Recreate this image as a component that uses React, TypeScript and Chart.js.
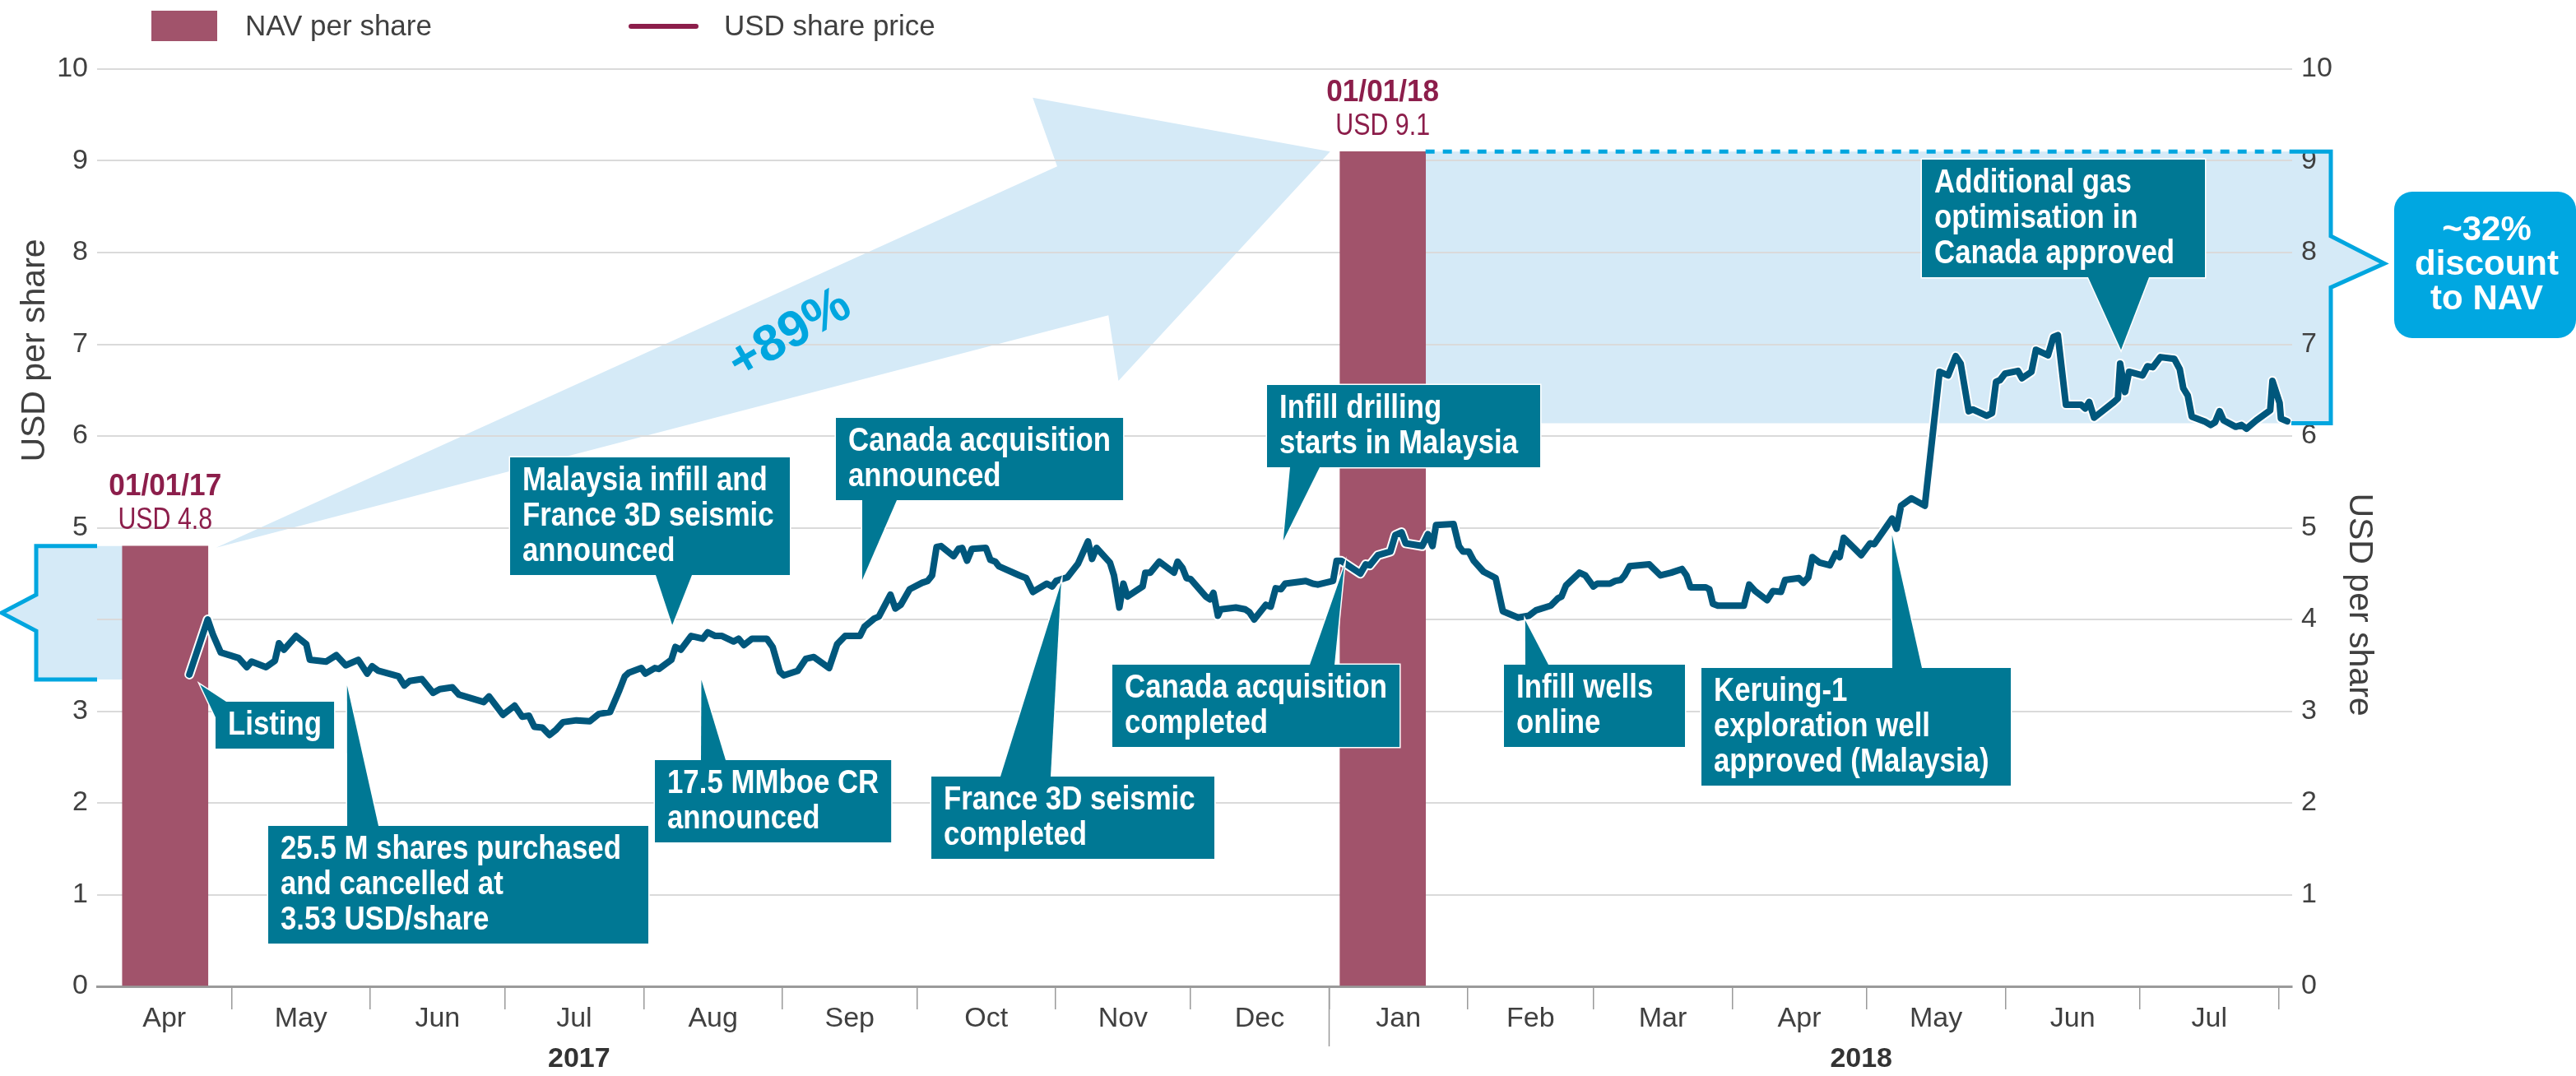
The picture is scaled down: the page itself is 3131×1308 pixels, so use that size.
import React, { useEffect, useRef } from 'react';
import { Chart, registerables } from 'chart.js';
Chart.register(...registerables);

const W = 3131;
const H = 1308;
const FONT = '"Liberation Sans", Arial, sans-serif';

// NAV per share bars
const navDays = [15.2, 287];
const navValues = [4.8, 9.1];
const navDates = ['01/01/17', '01/01/18'];
const navLabels = ['USD 4.8', 'USD 9.1'];

// USD share price (x = days since 1 Apr 2017)
const priceDays = [
  20.6, 24.7, 25.9, 27.6, 31.6, 33.4, 34.5, 37.7, 39.7, 40.6, 41.7, 44.4, 46.7, 47.5, 51.1, 53.4, 55.5, 58.3,
  60.3, 61.4, 62.8, 65.8, 67.3, 68.6, 69.8, 72.5, 75.0, 76.5, 79.3, 80.8, 86.3, 87.5, 90.6, 93.2, 94.9, 96.4,
  97.6, 99.4, 101, 102.5, 104, 107, 110, 112, 114.5, 116.6, 117.8, 118.7, 121.5, 122.4, 124.5, 125.4, 128.2,
  129.1, 130.3, 132.6, 135.2, 136.3, 138.0, 139.5, 142.1, 143.2, 144.4, 146.2, 149.5, 150.8, 152.4, 153.3,
  156.4, 158.2, 160.0, 163.4, 165.2, 167.0, 170.3, 171.3, 173.5, 174.5, 177.1, 178.2, 179.4, 181.4, 184.2,
  185.4, 186.4, 187.4, 188.4, 191.2, 192.3, 193.1, 194.2, 195.3, 198.4, 199.4, 200.5, 201.3, 205.9, 207.4,
  208.9, 212.0, 213.2, 214.1, 216.6, 219.0, 221.2, 222.1, 223.1, 226.1, 227.0, 228.2, 229.1, 230.0, 233.4,
  234.0, 235.1, 237.1, 240.4, 241.2, 242.3, 243.2, 244.1, 247.5, 248.4, 249.2, 250.2, 250.8, 254.2, 256.3,
  257.2, 258.3, 260.9, 262.0, 263.1, 264.3, 265.2, 269.8, 271.4, 272.5, 275.9, 276.7, 277.7, 282.0, 283.2,
  284.1, 285.9, 288.7, 289.8, 291.2, 292.1, 295.8, 297.1, 298.1, 298.9, 302.8, 304.0, 304.9, 306.2, 307.3,
  309.5, 311.1, 312.2, 313.8, 317.2, 319.6, 321.2, 324.5, 326.1, 326.9, 327.9, 330.9, 332.2, 334.0, 334.9,
  337.7, 338.9, 340.1, 341.0, 342.1, 346.5, 349.0, 351.4, 353.8, 354.8, 355.7, 359.1, 359.9, 360.7, 361.8,
  367.6, 368.8, 370.1, 372.8, 374.1, 375.9, 376.8, 379.9, 380.9, 382.0, 382.9, 384.5, 386.8, 388.1, 389.0,
  389.9, 393.8, 395.8, 396.7, 400.7, 401.7, 402.7, 405.0, 408.0, 411.3, 413.2, 414.9, 416.0, 417.8, 418.7,
  421.8, 423.0, 423.9, 424.8, 425.9, 428.8, 429.7, 431.8, 432.8, 435.5, 436.7, 437.7, 439.5, 442.9, 443.8,
  444.7, 445.8, 450.2, 451.1, 451.6, 452.7, 453.6, 456.6, 457.7, 458.9, 460.6, 463.7, 464.9, 465.7, 466.7,
  467.6, 470.4, 471.8, 472.8, 473.8, 474.7, 477.4, 478.7, 479.8, 482.0, 485.1, 485.6, 487.2, 487.5, 488.9,
];
const priceValues = [
  3.40, 4.00, 3.83, 3.64, 3.58, 3.48, 3.54, 3.48, 3.55, 3.74, 3.67, 3.82, 3.73, 3.56, 3.54, 3.61, 3.50, 3.56,
  3.41, 3.49, 3.44, 3.40, 3.38, 3.28, 3.33, 3.35, 3.20, 3.24, 3.26, 3.18, 3.10, 3.16, 2.96, 3.06, 2.94, 2.95,
  2.83, 2.82, 2.74, 2.80, 2.88, 2.90, 2.89, 2.97, 2.99, 3.23, 3.38, 3.42, 3.47, 3.41, 3.47, 3.46, 3.56,
  3.70, 3.67, 3.82, 3.79, 3.86, 3.82, 3.82, 3.76, 3.79, 3.72, 3.79, 3.79, 3.70, 3.43, 3.39,
  3.44, 3.57, 3.59, 3.47, 3.73, 3.82, 3.82, 3.92, 4.01, 4.03, 4.27, 4.12, 4.16, 4.33, 4.40,
  4.42, 4.48, 4.79, 4.80, 4.69, 4.77, 4.78, 4.64, 4.77, 4.78, 4.65, 4.63, 4.58, 4.48, 4.45,
  4.30, 4.39, 4.36, 4.42, 4.46, 4.61, 4.85, 4.66, 4.78, 4.62, 4.48, 4.13, 4.39, 4.25, 4.36,
  4.51, 4.51, 4.63, 4.51, 4.63, 4.56, 4.45, 4.44, 4.25, 4.22, 4.29, 4.04, 4.11, 4.13, 4.11,
  4.08, 4.00, 4.16, 4.14, 4.34, 4.33, 4.39, 4.42, 4.39, 4.38, 4.42, 4.64, 4.64, 4.50, 4.60,
  4.59, 4.70, 4.74, 4.92, 4.95, 4.83, 4.80, 4.93, 4.80, 5.03, 5.04, 4.80, 4.74, 4.74, 4.64,
  4.52, 4.48, 4.45, 4.09, 4.02, 4.04, 4.10, 4.15, 4.23, 4.25, 4.37, 4.51, 4.48, 4.36, 4.39,
  4.39, 4.42, 4.43, 4.48, 4.58, 4.60, 4.48, 4.51, 4.55, 4.48, 4.35, 4.35, 4.33, 4.17, 4.15,
  4.15, 4.38, 4.31, 4.21, 4.31, 4.30, 4.43, 4.45, 4.40, 4.46, 4.68, 4.62, 4.59, 4.72, 4.68,
  4.89, 4.70, 4.83, 4.82, 5.10, 4.99, 5.24, 5.32, 5.24, 6.70, 6.66, 6.87, 6.79, 6.27, 6.29,
  6.22, 6.25, 6.59, 6.61, 6.68, 6.71, 6.63, 6.70, 6.94, 6.88, 7.08, 7.10, 6.34, 6.34, 6.30,
  6.37, 6.20, 6.37, 6.41, 6.79, 6.48, 6.70, 6.66, 6.76, 6.75, 6.86, 6.84, 6.73, 6.52, 6.44,
  6.21, 6.16, 6.12, 6.15, 6.27, 6.17, 6.10, 6.12, 6.08, 6.17, 6.28, 6.60, 6.36, 6.19, 6.16,
];

// x axis: month boundaries (days since 1 Apr 2017)
const monthStarts = [0, 30, 61, 91, 122, 153, 183, 214, 244, 275, 306, 334, 365, 395, 426, 456, 487];
const monthLabels = ['Apr', 'May', 'Jun', 'Jul', 'Aug', 'Sep', 'Oct', 'Nov', 'Dec', 'Jan', 'Feb', 'Mar', 'Apr', 'May', 'Jun', 'Jul'];
const yearLabels = ['2017', '2018'];
const yearDays = [107.6, 393.8];
const yearBoundary = 275;
const xMax = 490;
const yTicks = [0, 1, 2, 3, 4, 5, 6, 7, 8, 9, 10];

// discount range on the right / listing range on the left
const discountLow = 6.14;
const bracketLeftLow = 3.345;

const callouts = [
  { lines: ['Listing'], box: [262, 853, 144], base: [275, 853, 262, 872], tip: [23.0, 3.29] },
  { lines: ['25.5 M shares purchased', 'and cancelled at', '3.53 USD/share'], box: [326, 1004, 462], base: [422, 1004, 460, 1004], tip: [55.8, 3.28] },
  { lines: ['17.5 MMboe CR', 'announced'], box: [796, 924, 268], base: [852, 924, 882, 924], tip: [134.9, 3.34] },
  { lines: ['Malaysia infill and', 'France 3D seismic', 'announced'], box: [620, 556, 340], base: [797, 699, 841, 699], tip: [128.4, 3.94] },
  { lines: ['Canada acquisition', 'announced'], box: [1016, 508, 344], base: [1048, 608, 1090, 608], tip: [170.8, 4.43] },
  { lines: ['France 3D seismic', 'completed'], box: [1132, 944, 344], base: [1216, 944, 1277, 944], tip: [215.2, 4.40] },
  { lines: ['Infill drilling', 'starts in Malaysia'], box: [1540, 468, 332], base: [1568, 568, 1604, 568], tip: [264.8, 4.86] },
  { lines: ['Canada acquisition', 'completed'], box: [1352, 808, 332], base: [1592, 808, 1622, 808], tip: [278.4, 4.58] },
  { lines: ['Infill wells', 'online'], box: [1828, 808, 220], base: [1854, 808, 1882, 808], tip: [318.8, 3.99] },
  { lines: ['Keruing-1', 'exploration well', 'approved (Malaysia)'], box: [2068, 812, 376], base: [2300, 812, 2336, 812], tip: [400.7, 4.92] },
  { lines: ['Additional gas', 'optimisation in', 'Canada approved'], box: [2336, 194, 344], base: [2538, 337, 2612, 337], tip: [451.8, 6.94] },
];

const C = {
  bar: '#a1536b',
  maroon: '#8c1e4b',
  line: '#00577c',
  teal: '#007894',
  cyan: '#00a6df',
  light: '#d5eaf7',
  grid: '#dadada',
  axis: '#9a9a9a',
  text: '#404040',
};

function sText(ctx, text, x, y, align, sx) {
  ctx.save();
  ctx.translate(x, y);
  ctx.scale(sx, 1);
  ctx.textAlign = align;
  ctx.fillText(text, 0, 0);
  ctx.restore();
}

const deco = {
  id: 'deco',
  beforeDraw(chart) {
    const ctx = chart.ctx;
    const ys = chart.scales.y;
    const ca = chart.chartArea;
    const bars = chart.getDatasetMeta(0).data;
    const b1 = bars[0];
    const b2 = bars[1];
    const b1L = b1.x - b1.width / 2;
    const b1R = b1.x + b1.width / 2;
    const b2L = b2.x - b2.width / 2;
    const b2R = b2.x + b2.width / 2;
    ctx.save();
    ctx.fillStyle = C.light;
    // left bracket fill
    const lt = ys.getPixelForValue(navValues[0]);
    const lb = ys.getPixelForValue(bracketLeftLow);
    const lm = (lt + lb) / 2;
    const lx = ca.left - 74;
    ctx.beginPath();
    ctx.moveTo(b1L, lt);
    ctx.lineTo(lx, lt);
    ctx.lineTo(lx, lm - 22);
    ctx.lineTo(lx - 42, lm);
    ctx.lineTo(lx, lm + 22);
    ctx.lineTo(lx, lb);
    ctx.lineTo(b1L, lb);
    ctx.closePath();
    ctx.fill();
    // arrow
    const T = { x: b1R + 10, y: lt + 2 };
    const P = { x: b2L - 12, y: ys.getPixelForValue(navValues[1]) };
    const dx = P.x - T.x;
    const dy = P.y - T.y;
    const pt = (fx, fy) => [T.x + fx * dx, T.y + fy * dy];
    const U = pt(0.755, 0.963);
    const H1 = pt(0.733, 1.136);
    const H2 = pt(0.81, 0.421);
    const L = pt(0.801, 0.587);
    ctx.beginPath();
    ctx.moveTo(T.x, T.y);
    ctx.lineTo(U[0], U[1]);
    ctx.lineTo(H1[0], H1[1]);
    ctx.lineTo(P.x, P.y);
    ctx.lineTo(H2[0], H2[1]);
    ctx.lineTo(L[0], L[1]);
    ctx.closePath();
    ctx.fill();
    // right shaded region
    const rt = ys.getPixelForValue(navValues[1]);
    const rb = ys.getPixelForValue(discountLow);
    const rx = ca.right + 47;
    const n1 = ys.getPixelForValue(8.18);
    const n2 = ys.getPixelForValue(7.88);
    const n3 = ys.getPixelForValue(7.62);
    ctx.beginPath();
    ctx.moveTo(b2R, rt);
    ctx.lineTo(rx, rt);
    ctx.lineTo(rx, n1);
    ctx.lineTo(rx + 65, n2);
    ctx.lineTo(rx, n3);
    ctx.lineTo(rx, rb);
    ctx.lineTo(b2R, rb);
    ctx.closePath();
    ctx.fill();
    ctx.restore();
  },
  afterDraw(chart) {
    const ctx = chart.ctx;
    const xs = chart.scales.x;
    const ys = chart.scales.y;
    const ca = chart.chartArea;
    const bars = chart.getDatasetMeta(0).data;
    ctx.save();
    ctx.textBaseline = 'middle';

    // brackets outlines
    ctx.strokeStyle = C.cyan;
    ctx.lineWidth = 5;
    ctx.lineJoin = 'miter';
    const lt = ys.getPixelForValue(navValues[0]);
    const lb = ys.getPixelForValue(bracketLeftLow);
    const lm = (lt + lb) / 2;
    const lx = ca.left - 74;
    ctx.beginPath();
    ctx.moveTo(ca.left, lt);
    ctx.lineTo(lx, lt);
    ctx.lineTo(lx, lm - 22);
    ctx.lineTo(lx - 42, lm);
    ctx.lineTo(lx, lm + 22);
    ctx.lineTo(lx, lb);
    ctx.lineTo(ca.left, lb);
    ctx.stroke();

    const b2 = bars[1];
    const b2R = b2.x + b2.width / 2;
    const rt = ys.getPixelForValue(navValues[1]);
    const rb = ys.getPixelForValue(discountLow);
    const rx = ca.right + 47;
    const n1 = ys.getPixelForValue(8.18);
    const n2 = ys.getPixelForValue(7.88);
    const n3 = ys.getPixelForValue(7.62);
    ctx.beginPath();
    ctx.moveTo(ca.right - 1, rt);
    ctx.lineTo(rx, rt);
    ctx.lineTo(rx, n1);
    ctx.lineTo(rx + 65, n2);
    ctx.lineTo(rx, n3);
    ctx.lineTo(rx, rb);
    ctx.lineTo(ca.right - 1, rb);
    ctx.stroke();
    ctx.setLineDash([11, 10]);
    ctx.beginPath();
    ctx.moveTo(b2R, rt);
    ctx.lineTo(ca.right - 1, rt);
    ctx.stroke();
    ctx.setLineDash([]);

    // +89%
    {
      const b1 = bars[0];
      const T = { x: b1.x + b1.width / 2 + 10, y: lt + 2 };
      const P = { x: b2.x - b2.width / 2 - 12, y: rt };
      const cx = T.x + 0.515 * (P.x - T.x);
      const cy = T.y + 0.538 * (P.y - T.y);
      ctx.save();
      ctx.translate(cx, cy);
      ctx.rotate(-30 * Math.PI / 180);
      ctx.fillStyle = C.cyan;
      ctx.font = `bold 62px ${FONT}`;
      ctx.textAlign = 'center';
      ctx.fillText('+89%', 0, 0);
      ctx.restore();
    }

    // ~32% discount box
    {
      const bx = ca.right + 124;
      const by = 233;
      const bw = 221;
      const bh = 178;
      ctx.fillStyle = '#00a7e1';
      ctx.beginPath();
      ctx.roundRect(bx, by, bw, bh, 22);
      ctx.fill();
      ctx.fillStyle = '#ffffff';
      ctx.font = `bold 42px ${FONT}`;
      ctx.textAlign = 'center';
      ['~32%', 'discount', 'to NAV'].forEach((t, i) => ctx.fillText(t, bx + bw / 2 + 2, by + 47 + i * 42));
    }

    // NAV labels
    bars.forEach((b, i) => {
      const top = b.y;
      const cx = b.x;
      ctx.fillStyle = C.maroon;
      ctx.font = `bold 37px ${FONT}`;
      sText(ctx, navDates[i], cx, top - 72, 'center', 0.95);
      ctx.font = `37px ${FONT}`;
      sText(ctx, navLabels[i], cx, top - 31, 'center', 0.82);
    });

    // callouts
    const SX = 0.87;
    callouts.forEach((c) => {
      const [x, y, w0] = c.box;
      ctx.font = `bold 40px ${FONT}`;
      let tw = 0;
      c.lines.forEach((l) => { tw = Math.max(tw, ctx.measureText(l).width * SX); });
      const w = Math.max(w0, tw + 30);
      const h = 14 + 43 * c.lines.length;
      const tx = xs.getPixelForValue(c.tip[0]);
      const ty = ys.getPixelForValue(c.tip[1]);
      ctx.beginPath();
      ctx.moveTo(c.base[0], c.base[1]);
      ctx.lineTo(tx, ty);
      ctx.lineTo(c.base[2], c.base[3]);
      ctx.closePath();
      ctx.strokeStyle = '#ffffff';
      ctx.lineWidth = 3;
      ctx.stroke();
      ctx.strokeRect(x, y, w, h);
      ctx.fillStyle = C.teal;
      ctx.fill();
      ctx.fillRect(x, y, w, h);
      ctx.fillStyle = '#ffffff';
      c.lines.forEach((l, i) => sText(ctx, l, x + 15, y + 29 + i * 43, 'left', SX));
    });

    // legend
    ctx.fillStyle = C.bar;
    ctx.fillRect(184, 13, 80, 37);
    ctx.fillStyle = C.text;
    ctx.font = `35px ${FONT}`;
    ctx.textAlign = 'left';
    ctx.fillText('NAV per share', 298, 33);
    ctx.strokeStyle = C.maroon;
    ctx.lineWidth = 6;
    ctx.lineCap = 'round';
    ctx.beginPath();
    ctx.moveTo(767, 32);
    ctx.lineTo(846, 32);
    ctx.stroke();
    ctx.lineCap = 'butt';
    ctx.fillText('USD share price', 880, 33);

    // axis titles
    ctx.font = `41px ${FONT}`;
    ctx.fillStyle = C.text;
    ctx.save();
    ctx.translate(43, 426);
    ctx.rotate(-Math.PI / 2);
    ctx.textAlign = 'center';
    ctx.fillText('USD per share', 0, 0);
    ctx.restore();
    ctx.save();
    ctx.translate(2867, 735);
    ctx.rotate(Math.PI / 2);
    ctx.textAlign = 'center';
    ctx.fillText('USD per share', 0, 0);
    ctx.restore();

    // month labels
    ctx.font = `34px ${FONT}`;
    ctx.textAlign = 'center';
    monthLabels.forEach((m, i) => {
      const a = monthStarts[i];
      const b = monthStarts[i + 1] !== undefined ? monthStarts[i + 1] : xMax;
      ctx.fillText(m, xs.getPixelForValue((a + b) / 2), 1239);
    });
    ctx.font = `bold 34px ${FONT}`;
    ctx.fillStyle = '#333333';
    yearLabels.forEach((y, i) => ctx.fillText(y, xs.getPixelForValue(yearDays[i]), 1288));
    // year separator
    ctx.strokeStyle = C.axis;
    ctx.lineWidth = 1.5;
    const ysx = Math.round(xs.getPixelForValue(yearBoundary)) + 0.5;
    ctx.beginPath();
    ctx.moveTo(ysx, ca.bottom);
    ctx.lineTo(ysx, ca.bottom + 73);
    ctx.stroke();

    ctx.restore();
  },
};

export default function App() {
  const ref = useRef(null);
  useEffect(() => {
    const pts = priceDays.map((d, i) => ({ x: d, y: priceValues[i] }));
    const chart = new Chart(ref.current, {
      type: 'line',
      data: {
        datasets: [
          {
            type: 'bar',
            label: 'NAV per share',
            data: navDays.map((d, i) => ({ x: d, y: navValues[i] })),
            backgroundColor: C.bar,
            barThickness: 104,
            grouped: false,
            order: 3,
          },
          {
            type: 'line',
            label: 'halo',
            data: pts,
            borderColor: '#ffffff',
            borderWidth: 12,
            pointRadius: 0,
            tension: 0,
            borderJoinStyle: 'round',
            borderCapStyle: 'round',
            order: 2,
          },
          {
            type: 'line',
            label: 'USD share price',
            data: pts,
            borderColor: C.line,
            borderWidth: 8,
            pointRadius: 0,
            tension: 0,
            borderJoinStyle: 'round',
            borderCapStyle: 'round',
            order: 1,
          },
        ],
      },
      options: {
        animation: false,
        responsive: false,
        devicePixelRatio: 1,
        layout: { padding: { top: 84, left: 0, right: 0, bottom: 0 } },
        plugins: { legend: { display: false }, tooltip: { enabled: false } },
        scales: {
          x: {
            type: 'linear',
            min: 0,
            max: xMax,
            offset: false,
            afterBuildTicks: (s) => { s.ticks = monthStarts.slice(1).map((v) => ({ value: v })); },
            afterFit: (s) => { s.height = H - 1199; },
            ticks: { callback: () => '', autoSkip: false, maxRotation: 0 },
            grid: { drawOnChartArea: false, drawTicks: true, tickLength: 28, color: C.axis, lineWidth: 1.5, offset: false },
            border: { display: true, color: C.axis, width: 3 },
          },
          y: {
            position: 'left',
            min: 0,
            max: 10,
            afterBuildTicks: (s) => { s.ticks = yTicks.map((v) => ({ value: v })); },
            afterFit: (s) => { s.width = 118; },
            ticks: {
              padding: 11,
              color: C.text,
              font: { family: FONT, size: 34 },
              callback: (v) => (v === 4 ? '' : String(v)),
            },
            grid: { color: (c) => (c.tick && c.tick.value === 0 ? 'rgba(0,0,0,0)' : C.grid), lineWidth: 2, drawTicks: false },
            border: { display: false },
          },
          y2: {
            position: 'right',
            min: 0,
            max: 10,
            afterBuildTicks: (s) => { s.ticks = yTicks.map((v) => ({ value: v })); },
            afterFit: (s) => { s.width = W - 2786; },
            ticks: { padding: 11, color: C.text, font: { family: FONT, size: 34 }, callback: (v) => String(v) },
            grid: { drawOnChartArea: false, drawTicks: false },
            border: { display: false },
          },
        },
      },
      plugins: [deco],
    });
    return () => chart.destroy();
  }, []);
  return (
    <div style={{ position: 'fixed', left: 0, top: 0, width: W, height: H, background: '#ffffff' }}>
      <canvas ref={ref} width={W} height={H} style={{ width: W, height: H, display: 'block' }} />
    </div>
  );
}
